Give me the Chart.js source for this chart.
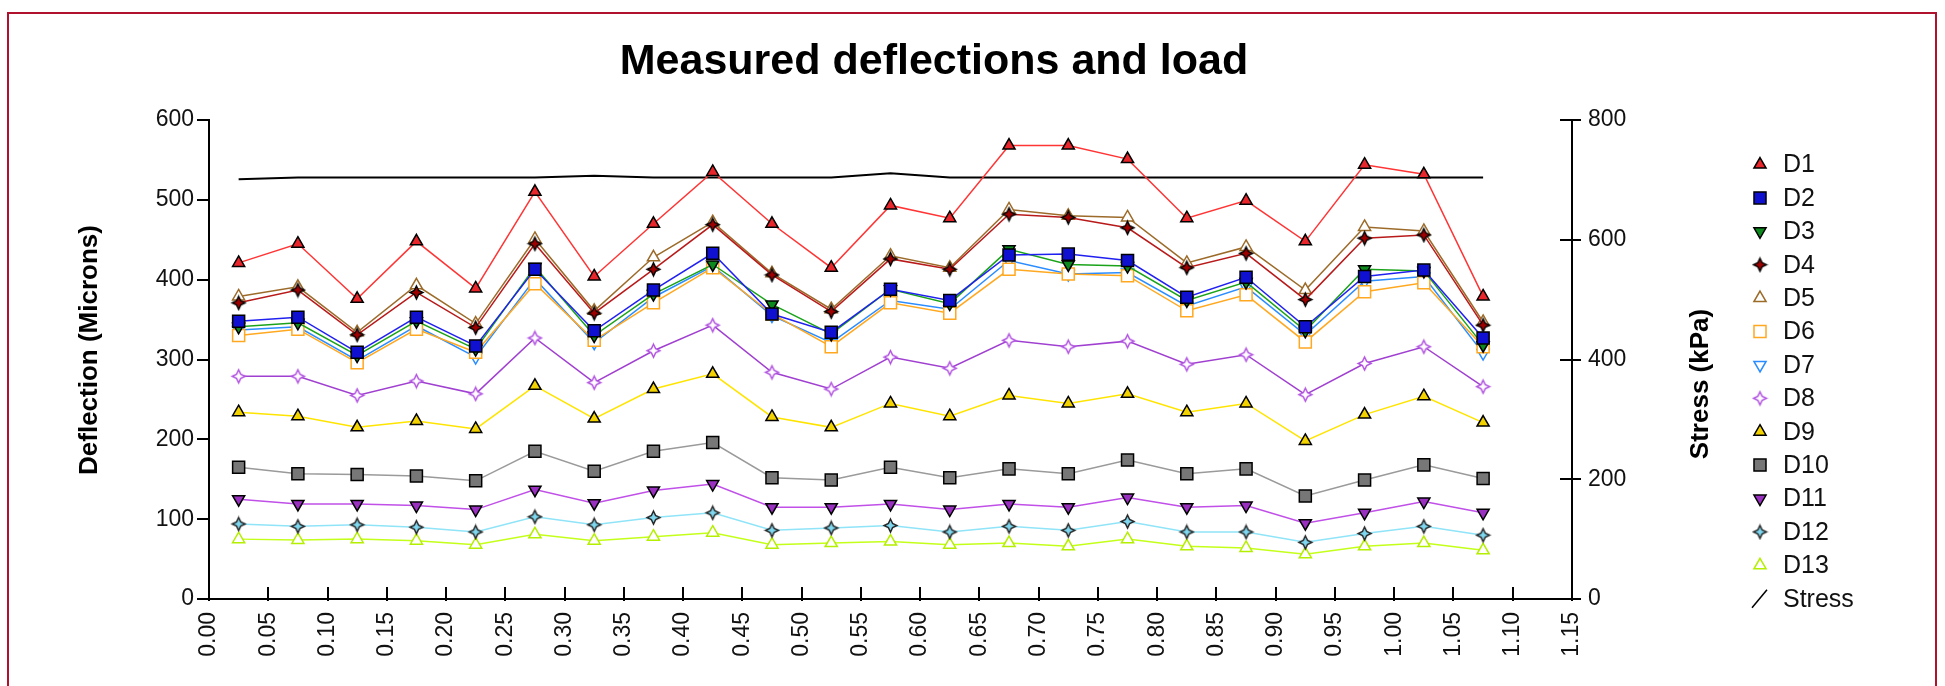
<!DOCTYPE html>
<html>
<head>
<meta charset="utf-8">
<script src="https://cdn.jsdelivr.net/npm/chart.js@4.4.1/dist/chart.umd.min.js"></script>
<style>
  html, body { margin: 0; padding: 0; background: #fff; overflow: hidden; }
  #wrap { width: 1945px; height: 686px; position: relative; }
</style>
</head>
<body>
<div id="wrap"><canvas id="chart" width="1945" height="686"></canvas></div>
<script>
// Station positions (km) of each drop
const chainage = [0.025, 0.075, 0.125, 0.175, 0.225, 0.275, 0.325, 0.375, 0.425, 0.475, 0.525,
                  0.575, 0.625, 0.675, 0.725, 0.775, 0.825, 0.875, 0.925, 0.975, 1.025, 1.075];

// Sensor deflections (microns)
const D1  = [421, 445, 376, 448, 389, 510, 404, 470, 535, 470, 415, 493, 477, 568, 568, 551, 477, 499, 448, 544, 532, 379];
const D2  = [348, 353, 309, 353, 317, 413, 336, 387, 433, 357, 334, 388, 374, 431, 432, 424, 378, 403, 341, 404, 412, 327];
const D3  = [341, 346, 305, 348, 313, 416, 330, 382, 419, 369, 332, 388, 370, 438, 419, 417, 374, 397, 336, 413, 411, 318];
const D4  = [371, 387, 331, 384, 340, 445, 358, 413, 469, 406, 360, 426, 413, 482, 478, 465, 415, 433, 375, 452, 456, 343];
const D5  = [379, 391, 334, 393, 345, 451, 361, 428, 472, 408, 363, 430, 415, 488, 480, 478, 421, 441, 387, 466, 461, 347];
const D6  = [330, 338, 296, 338, 309, 395, 324, 371, 415, 357, 316, 371, 358, 413, 407, 405, 361, 381, 322, 385, 396, 316];
const D7  = [337, 341, 299, 342, 303, 401, 321, 378, 417, 355, 321, 374, 363, 424, 407, 409, 367, 391, 331, 398, 404, 308];
const D8  = [279, 279, 255, 273, 257, 327, 271, 311, 343, 284, 263, 303, 289, 324, 316, 323, 294, 306, 256, 295, 316, 266];
const D9  = [234, 229, 215, 223, 213, 267, 226, 263, 282, 228, 215, 245, 229, 255, 245, 257, 234, 245, 198, 231, 254, 221];
const D10 = [165, 157, 156, 154, 148, 185, 160, 185, 196, 152, 149, 165, 152, 163, 157, 174, 157, 163, 129, 149, 168, 151];
const D11 = [125, 119, 119, 117, 112, 137, 120, 136, 144, 115, 115, 119, 112, 119, 115, 127, 115, 117,  95, 108, 122, 108];
const D12 = [ 94,  91,  93,  90,  84, 103,  93, 102, 108,  86,  89,  92,  84,  91,  86,  97,  84,  84,  71,  82,  91,  80];
const D13 = [ 75,  74,  75,  73,  68,  81,  73,  78,  83,  68,  70,  72,  68,  70,  66,  75,  66,  64,  56,  66,  70,  61];

// Applied contact stress (kPa)
const stress = [701, 704, 704, 704, 704, 704, 707, 704, 704, 704, 704, 711, 704, 704, 704, 704, 704, 704, 704, 704, 704, 704];

// Axis tick values
const xTicks  = [0, 0.05, 0.10, 0.15, 0.20, 0.25, 0.30, 0.35, 0.40, 0.45, 0.50, 0.55,
                 0.60, 0.65, 0.70, 0.75, 0.80, 0.85, 0.90, 0.95, 1.00, 1.05, 1.10, 1.15];
const yTicks  = [0, 100, 200, 300, 400, 500, 600];
const y2Ticks = [0, 200, 400, 600, 800];

const seriesNames = ['D1', 'D2', 'D3', 'D4', 'D5', 'D6', 'D7', 'D8', 'D9', 'D10', 'D11', 'D12', 'D13'];
const seriesData  = [D1, D2, D3, D4, D5, D6, D7, D8, D9, D10, D11, D12, D13];

const FONT = '"Liberation Sans", Arial, Helvetica, sans-serif';

// Four-pointed star marker
function starMark(fill, stroke, r) {
  const size = Math.ceil(2 * r + 4);
  const c = document.createElement('canvas');
  c.width = c.height = size;
  const g = c.getContext('2d');
  const m = size / 2, k = r * 0.32;
  g.beginPath();
  g.moveTo(m, m - r); g.lineTo(m + k, m - k); g.lineTo(m + r, m); g.lineTo(m + k, m + k);
  g.lineTo(m, m + r); g.lineTo(m - k, m + k); g.lineTo(m - r, m); g.lineTo(m - k, m - k);
  g.closePath();
  g.fillStyle = fill; g.fill();
  g.lineWidth = 1.4; g.strokeStyle = stroke; g.stroke();
  return c;
}

// Line colour and marker look of each sensor series
const looks = [
  { line: '#ff3434', style: 'triangle', rot: 0,   r: 7,   fill: '#e8262b', edge: '#000' },
  { line: '#2020f0', style: 'rect',     rot: 0,   r: 8.5, fill: '#1010d0', edge: '#000' },
  { line: '#1aa31a', style: 'triangle', rot: 180, r: 7,   fill: '#0d8a1d', edge: '#000' },
  { line: '#b81a1a', style: starMark('#a00000', '#000', 6.5), rot: 0, r: 6.5, fill: '#a00000', edge: '#000' },
  { line: '#9c6b2a', style: 'triangle', rot: 0,   r: 7,   fill: '#ffffff', edge: '#9c6b2a' },
  { line: '#ffa820', style: 'rect',     rot: 0,   r: 8.5, fill: '#ffffff', edge: '#ffa820' },
  { line: '#2a8cff', style: 'triangle', rot: 180, r: 7,   fill: '#ffffff', edge: '#2a8cff' },
  { line: '#a040d0', style: starMark('#ffffff', '#b050e0', 6.5), rot: 0, r: 6.5, fill: '#ffffff', edge: '#b050e0' },
  { line: '#ffe400', style: 'triangle', rot: 0,   r: 7,   fill: '#f2d200', edge: '#000' },
  { line: '#9a9a9a', style: 'rect',     rot: 0,   r: 8.5, fill: '#777777', edge: '#000' },
  { line: '#c050e8', style: 'triangle', rot: 180, r: 7,   fill: '#9a30c0', edge: '#000' },
  { line: '#90e4f8', style: starMark('#7fd8f0', '#222', 6.5), rot: 0, r: 6.5, fill: '#7fd8f0', edge: '#222' },
  { line: '#c4ff1a', style: 'triangle', rot: 0,   r: 7,   fill: '#ffffff', edge: '#b4ee00' }
];

const datasets = seriesNames.map((name, i) => ({
  label: name,
  data: chainage.map((x, j) => ({ x: x, y: seriesData[i][j] })),
  yAxisID: 'y',
  borderColor: looks[i].line,
  borderWidth: 1.5,
  tension: 0,
  fill: false,
  pointStyle: looks[i].style,
  pointRotation: looks[i].rot,
  pointRadius: looks[i].r,
  pointBackgroundColor: looks[i].fill,
  pointBorderColor: looks[i].edge,
  pointBorderWidth: 1.5
}));

datasets.push({
  label: 'Stress',
  data: chainage.map((x, j) => ({ x: x, y: stress[j] })),
  yAxisID: 'y2',
  borderColor: '#000',
  borderWidth: 2,
  tension: 0,
  fill: false,
  pointRadius: 0
});

function line(ctx, x1, y1, x2, y2) {
  ctx.beginPath(); ctx.moveTo(x1, y1); ctx.lineTo(x2, y2); ctx.stroke();
}

// Frame, tick marks, titles and legend
const decor = {
  id: 'decor',
  beforeDraw(chart) {
    const ctx = chart.ctx;
    ctx.save();
    ctx.fillStyle = '#fff';
    ctx.fillRect(0, 0, chart.width, chart.height);
    ctx.strokeStyle = '#b0122d';
    ctx.lineWidth = 2;
    ctx.beginPath();
    ctx.moveTo(8, 700); ctx.lineTo(8, 13); ctx.lineTo(1936, 13); ctx.lineTo(1936, 700);
    ctx.stroke();
    ctx.restore();
  },
  afterDraw(chart) {
    const ctx = chart.ctx;
    const a = chart.chartArea;
    const sx = chart.scales.x, sy = chart.scales.y, sy2 = chart.scales.y2;
    ctx.save();
    ctx.strokeStyle = '#000';
    ctx.lineWidth = 2;
    sy.ticks.forEach(t => {
      const p = Math.round(sy.getPixelForValue(t.value));
      line(ctx, a.left - 12, p, a.left, p);
    });
    sy2.ticks.forEach(t => {
      const p = Math.round(sy2.getPixelForValue(t.value));
      line(ctx, a.right - 12, p, a.right + 9, p);
    });
    sx.ticks.forEach(t => {
      const p = Math.round(sx.getPixelForValue(t.value));
      line(ctx, p, a.bottom - 12, p, a.bottom + 2);
    });

    ctx.fillStyle = '#000';
    ctx.textAlign = 'center';
    ctx.textBaseline = 'alphabetic';
    ctx.font = 'bold 43px ' + FONT;
    ctx.fillText('Measured deflections and load', 934, 74);

    ctx.font = 'bold 26px ' + FONT;
    ctx.textBaseline = 'middle';
    ctx.save();
    ctx.translate(90, 350);
    ctx.rotate(-Math.PI / 2);
    ctx.fillText('Deflection (Microns)', 0, 0);
    ctx.restore();
    ctx.save();
    ctx.translate(1701, 384);
    ctx.rotate(-Math.PI / 2);
    ctx.fillText('Stress (kPa)', 0, 0);
    ctx.restore();

    // legend
    ctx.font = '25px ' + FONT;
    ctx.textAlign = 'left';
    const drawPt = Chart.helpers && Chart.helpers.drawPoint;
    chart.data.datasets.forEach((ds, i) => {
      const y = 164.5 + i * 33.4;
      if (ds.pointRadius > 0 && drawPt) {
        ctx.save();
        ctx.fillStyle = ds.pointBackgroundColor;
        ctx.strokeStyle = ds.pointBorderColor;
        ctx.lineWidth = ds.pointBorderWidth;
        drawPt(ctx, { pointStyle: ds.pointStyle, rotation: ds.pointRotation, radius: ds.pointRadius, borderWidth: ds.pointBorderWidth }, 1760, y);
        ctx.restore();
      } else {
        ctx.strokeStyle = '#000';
        ctx.lineWidth = 1.5;
        line(ctx, 1752, y + 9, 1767, y - 9);
      }
      ctx.fillStyle = '#111';
      ctx.fillText(ds.label, 1783, y + 1);
    });
    ctx.restore();
  }
};

const tickFont = { family: FONT, size: 23 };

new Chart(document.getElementById('chart'), {
  type: 'line',
  data: { datasets: datasets },
  plugins: [decor],
  options: {
    responsive: false,
    devicePixelRatio: 1,
    animation: false,
    layout: { padding: { top: 120, left: 0, right: 0, bottom: 0 } },
    plugins: { legend: { display: false }, title: { display: false }, tooltip: { enabled: false } },
    scales: {
      x: {
        type: 'linear',
        position: 'bottom',
        min: 0,
        max: 1.15,
        afterFit(s) { s.height = 87; },
        afterBuildTicks(s) { s.ticks = xTicks.map(v => ({ value: v })); },
        ticks: {
          autoSkip: false,
          minRotation: 90,
          maxRotation: 90,
          padding: 13,
          color: '#111',
          font: tickFont,
          callback: v => Number(v).toFixed(2)
        },
        grid: { display: true, drawOnChartArea: false, drawTicks: false },
        border: { display: true, color: '#000', width: 2 }
      },
      y: {
        position: 'left',
        min: 0,
        max: 600,
        afterFit(s) { s.width = 209; },
        afterBuildTicks(s) { s.ticks = yTicks.map(v => ({ value: v })); },
        ticks: { padding: 15, color: '#111', font: tickFont },
        grid: { display: true, drawOnChartArea: false, drawTicks: false },
        border: { display: true, color: '#000', width: 2 }
      },
      y2: {
        position: 'right',
        min: 0,
        max: 800,
        afterFit(s) { s.width = 373; },
        afterBuildTicks(s) { s.ticks = y2Ticks.map(v => ({ value: v })); },
        ticks: { padding: 16, color: '#111', font: tickFont },
        grid: { display: true, drawOnChartArea: false, drawTicks: false },
        border: { display: true, color: '#000', width: 2 }
      }
    }
  }
});
</script>
</body>
</html>
